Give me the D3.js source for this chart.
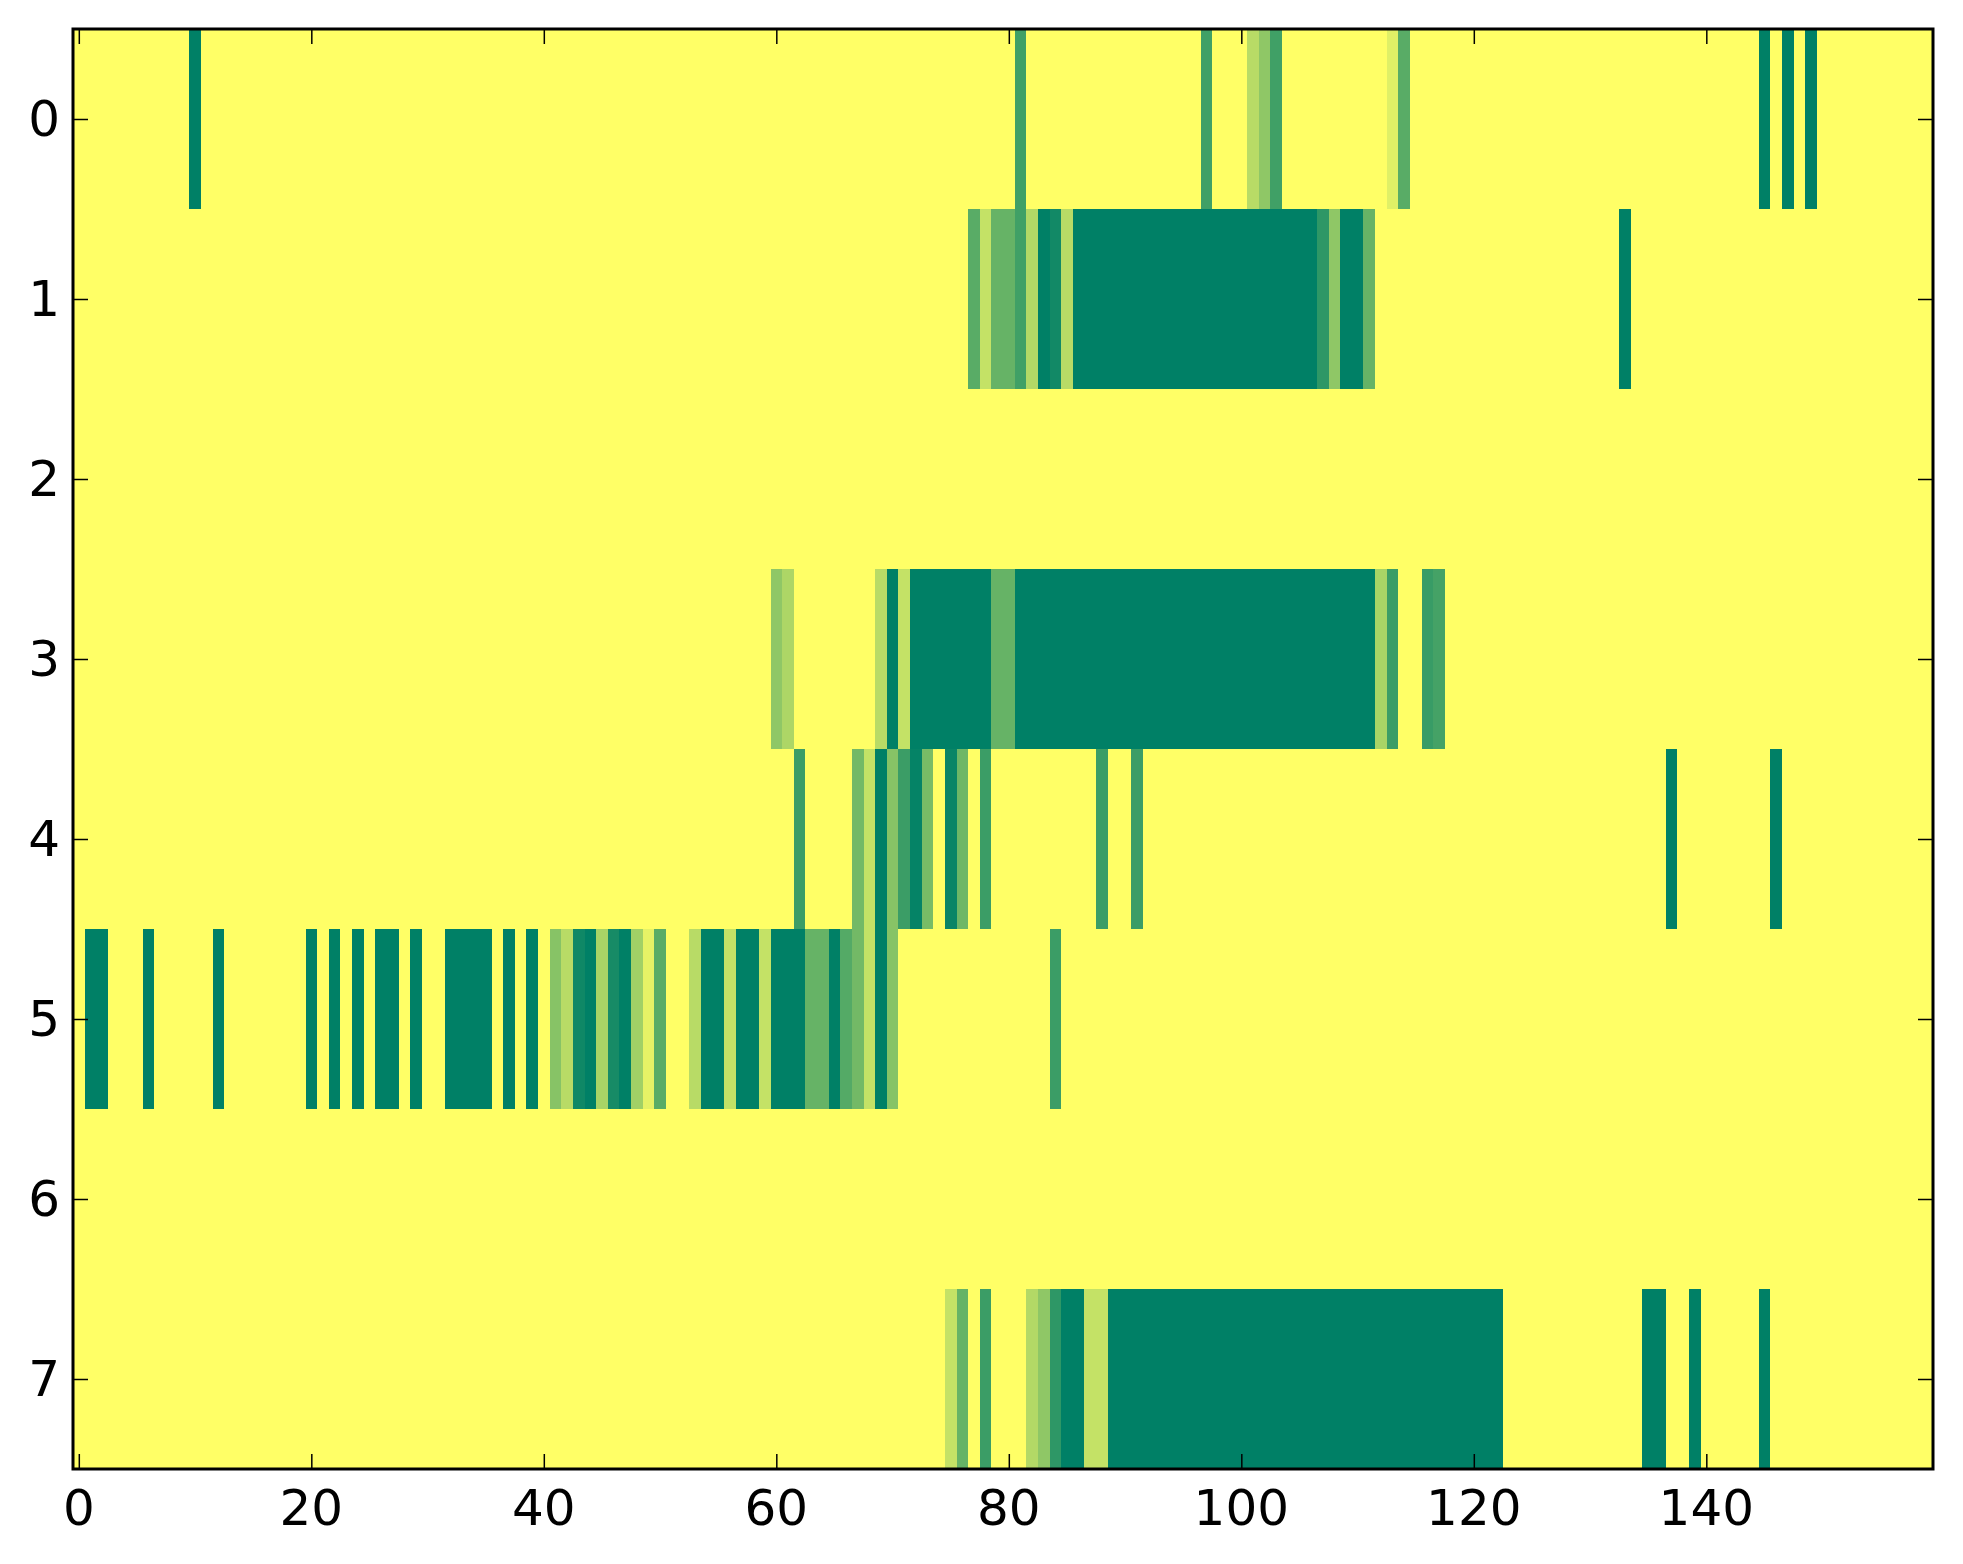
<!DOCTYPE html>
<html>
<head>
<meta charset="utf-8">
<script src="https://cdn.jsdelivr.net/npm/d3@7"></script>
<style>
  body { margin: 0; background: #fff; }
  text { font-family: "DejaVu Sans", sans-serif; }
</style>
</head>
<body>
<script>
// grid size
var nCols = 160;
var rowLabels = [0, 1, 2, 3, 4, 5, 6, 7];
var xTicks = [0, 20, 40, 60, 80, 100, 120, 140];

// each row: runs of [firstCol, lastCol, value]; cells not listed are 1 (yellow)
var row0 = [[10,10,0],[81,81,0.25],[97,97,0.25],[101,101,0.72],[102,102,0.56],[103,103,0.25],
            [113,113,0.88],[114,114,0.35],[145,145,0],[147,147,0],[149,149,0]];
var row1 = [[77,77,0.35],[78,78,0.77],[79,80,0.4],[81,81,0.25],[82,82,0.7],[83,83,0],[84,84,0.07],
            [85,85,0.72],[86,106,0],[107,107,0.18],[108,108,0.56],[109,110,0],[111,111,0.4],[133,133,0]];
var row2 = [];
var row3 = [[60,60,0.56],[61,61,0.68],[69,69,0.72],[70,70,0],[71,71,0.77],[72,78,0],[79,80,0.4],
            [81,111,0],[112,112,0.66],[113,113,0.23],[116,116,0.22],[117,117,0.27]];
var row4 = [[62,62,0.23],[67,67,0.45],[68,68,0.77],[69,69,0],[70,70,0.53],[71,71,0.23],[72,72,0.02],
            [73,73,0.47],[75,75,0.04],[76,76,0.43],[78,78,0.23],[88,88,0.23],[91,91,0.23],
            [137,137,0],[146,146,0]];
var row5 = [[1,2,0],[6,6,0],[12,12,0],[20,20,0],[22,22,0],[24,24,0],[26,27,0],[29,29,0],[32,35,0],
            [37,37,0],[39,39,0],[41,41,0.53],[42,42,0.72],[43,43,0.06],[44,44,0],[45,45,0.66],
            [46,46,0.09],[47,47,0],[48,48,0.63],[49,49,0.9],[50,50,0.35],[53,53,0.72],[54,55,0],
            [56,56,0.77],[57,58,0],[59,59,0.77],[60,62,0],[63,64,0.4],[65,65,0],[66,66,0.33],
            [67,67,0.45],[68,68,0.77],[69,69,0],[70,70,0.53],[84,84,0.23]];
var row6 = [];
var row7 = [[75,75,0.77],[76,76,0.4],[78,78,0.23],[82,82,0.7],[83,83,0.56],[84,84,0.18],[85,86,0],
            [87,88,0.77],[89,122,0],[135,136,0],[139,139,0],[145,145,0]];
var rows = [row0, row1, row2, row3, row4, row5, row6, row7];

var margin = {top: 29, right: 30, bottom: 95, left: 73},
    width = 1860,
    height = 1440;

var svg = d3.select("body").append("svg")
    .attr("width", 1963)
    .attr("height", 1564)
  .append("g")
    .attr("transform", "translate(" + margin.left + "," + margin.top + ")");

// build cells
var cells = [];
rows.forEach(function(runs, r) {
  var vals = new Array(nCols).fill(1);
  runs.forEach(function(run) {
    for (var c = run[0]; c <= run[1]; c++) vals[c] = run[2];
  });
  vals.forEach(function(v, c) { cells.push({row: r, col: c, value: v}); });
});

var x = d3.scaleLinear().domain([-0.5, nCols - 0.5]).range([0, width]);
var y = d3.scaleLinear().domain([-0.5, rowLabels.length - 0.5]).range([0, height]);

// matplotlib "summer"
var color = d3.scaleSequential(d3.interpolateRgb("#008066", "#ffff66")).domain([0, 1]);

svg.append("g")
  .selectAll("rect")
  .data(cells)
  .enter()
  .append("rect")
    .attr("x", function(d) { return x(d.col - 0.5); })
    .attr("y", function(d) { return y(d.row - 0.5); })
    .attr("width", function(d) { return x(d.col + 0.5) - x(d.col - 0.5) + 0.4; })
    .attr("height", function(d) { return y(d.row + 0.5) - y(d.row - 0.5) + 0.4; })
    .attr("fill", function(d) { return color(d.value); })
    .attr("shape-rendering", "crispEdges");

// axes, ticks pointing inward
var tickLen = 15;
var axisBottomG = svg.append("g")
    .attr("transform", "translate(0," + height + ")")
    .call(d3.axisTop(x).tickValues(xTicks).tickSize(tickLen).tickFormat(""));
var axisTopG = svg.append("g")
    .call(d3.axisBottom(x).tickValues(xTicks).tickSize(tickLen).tickFormat(""));
var axisLeftG = svg.append("g")
    .call(d3.axisRight(y).tickValues(rowLabels).tickSize(tickLen).tickFormat(""));
var axisRightG = svg.append("g")
    .attr("transform", "translate(" + width + ",0)")
    .call(d3.axisLeft(y).tickValues(rowLabels).tickSize(tickLen).tickFormat(""));

[axisBottomG, axisTopG, axisLeftG, axisRightG].forEach(function(g) {
  g.select(".domain").remove();
  g.selectAll(".tick line").attr("stroke", "#000").attr("stroke-width", 1.5);
});

// tick labels
svg.append("g")
  .selectAll("text")
  .data(xTicks)
  .enter()
  .append("text")
    .attr("x", function(d) { return x(d); })
    .attr("y", height + 56)
    .attr("text-anchor", "middle")
    .attr("font-size", 50)
    .text(function(d) { return d; });

svg.append("g")
  .selectAll("text")
  .data(rowLabels)
  .enter()
  .append("text")
    .attr("x", -13)
    .attr("y", function(d) { return y(d); })
    .attr("dy", "0.33em")
    .attr("text-anchor", "end")
    .attr("font-size", 50)
    .text(function(d) { return d; });

// frame
svg.append("rect")
    .attr("width", width)
    .attr("height", height)
    .attr("fill", "none")
    .attr("stroke", "#000")
    .attr("stroke-width", 3);
</script>
</body>
</html>
